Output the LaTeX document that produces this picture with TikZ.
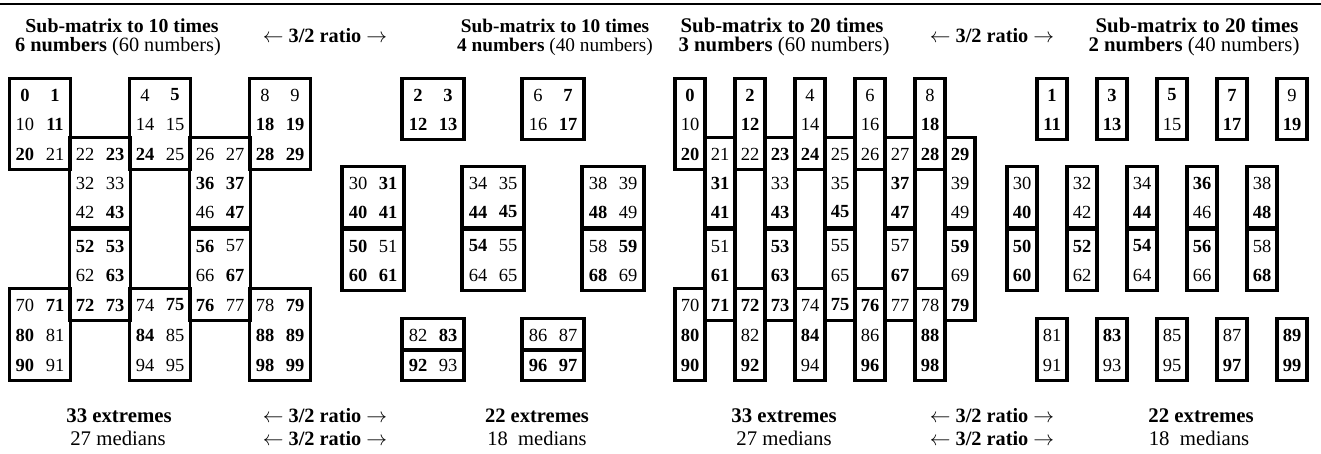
\documentclass[tikz,border=0pt]{standalone}
\usepackage{fontspec}
\setmainfont{Liberation Serif}
\newcommand\rowy{{95,124,154,183,212,246,275,305,335,365}}
\newcommand\boldflags{{1,1,1,1,0,1,0,1,0,0,0,1,1,1,0,0,0,1,1,1,1,0,0,1,1,0,0,0,1,1,0,1,0,0,0,0,1,1,0,0,1,1,0,1,1,1,0,1,1,0,1,0,1,1,1,0,1,0,0,1,1,1,0,1,0,0,0,1,1,0,0,1,1,1,0,1,1,0,0,1,1,0,0,1,1,0,0,0,1,1,1,0,1,0,0,0,1,1,1,1}}
\newcommand\numrm{\fontsize{18.5}{20}\selectfont}
\newcommand\numbf{\fontsize{18.5}{20}\selectfont\bfseries}
\newcommand\fs[1]{\fontsize{#1}{22}\selectfont}
\newcommand\putnum[4]{%
  \pgfmathtruncatemacro\mynum{10*(#3)+(#4)}%
  \pgfmathsetmacro\myy{\rowy[#3]}%
  \pgfmathtruncatemacro\myb{\boldflags[\mynum]}%
  \ifnum\myb=1\relax
    \node[numtxt,font=\numbf] (#1-\mynum) at (#2,\myy) {\mynum};%
  \else
    \node[numtxt,font=\numrm] (#1-\mynum) at (#2,\myy) {\mynum};%
  \fi}
\newcommand\cellbox[4]{%
  \pgfmathsetmacro\mytop{\rowy[#3]-16.5}%
  \pgfmathsetmacro\mybot{\rowy[#4]+15.5}%
  \draw[boxline] (#1,\mytop) rectangle (#2,\mybot);}
\begin{document}
\begin{tikzpicture}[x=1pt,y=-1pt,
  numtxt/.style={inner sep=0pt,anchor=center},
  boxline/.style={line width=3.2pt},
  ttl/.style={inner sep=0pt,anchor=base,font=\bfseries},
  lab/.style={inner sep=0pt,anchor=base}]
\useasboundingbox (0,0) rectangle (1321,454);
\coordinate (ruleL) at (0,4);
\coordinate (ruleR) at (1321,4);
\draw[line width=2.6pt] (ruleL) -- (ruleR);

% ---------- panel 1 ----------
\foreach \p in {0,2,4} {
  \pgfmathsetmacro\cx{40+60*\p}
  \cellbox{\cx-30.5}{\cx+30.5}{0}{2}
  \cellbox{\cx-30.5}{\cx+30.5}{7}{9}
  \foreach \r in {0,1,2,7,8,9} {
    \putnum{a}{\cx-15}{\r}{2*\p}
    \putnum{a}{\cx+15}{\r}{2*\p+1}
  }
}
\foreach \p in {1,3} {
  \pgfmathsetmacro\cx{40+60*\p}
  \cellbox{\cx-30.5}{\cx+30.5}{2}{4}
  \cellbox{\cx-30.5}{\cx+30.5}{5}{7}
  \foreach \r in {2,3,4,5,6,7} {
    \putnum{a}{\cx-15}{\r}{2*\p}
    \putnum{a}{\cx+15}{\r}{2*\p+1}
  }
}

% ---------- panel 2 ----------
\foreach \p in {1,3} {
  \pgfmathsetmacro\cx{373+60*\p}
  \cellbox{\cx-31}{\cx+31}{0}{1}
  \cellbox{\cx-31}{\cx+31}{8}{9}
  \draw[boxline] (\cx-31,350) -- (\cx+31,350);
  \foreach \r in {0,1,8,9} {
    \putnum{b}{\cx-15}{\r}{2*\p}
    \putnum{b}{\cx+15}{\r}{2*\p+1}
  }
}
\foreach \p in {0,2,4} {
  \pgfmathsetmacro\cx{373+60*\p}
  \cellbox{\cx-31}{\cx+31}{3}{4}
  \cellbox{\cx-31}{\cx+31}{5}{6}
  \foreach \r in {3,4,5,6} {
    \putnum{b}{\cx-15}{\r}{2*\p}
    \putnum{b}{\cx+15}{\r}{2*\p+1}
  }
}

% ---------- panel 3 ----------
\foreach \c in {0,2,4,6,8} {
  \pgfmathsetmacro\cx{690+30*\c}
  \cellbox{\cx-15}{\cx+15}{0}{2}
  \cellbox{\cx-15}{\cx+15}{7}{9}
  \foreach \r in {0,1,2,7,8,9} {\putnum{c}{\cx}{\r}{\c}}
}
\foreach \c in {1,3,5,7,9} {
  \pgfmathsetmacro\cx{690+30*\c}
  \cellbox{\cx-15}{\cx+15}{2}{4}
  \cellbox{\cx-15}{\cx+15}{5}{7}
  \foreach \r in {2,3,4,5,6,7} {\putnum{c}{\cx}{\r}{\c}}
}

% ---------- panel 4 ----------
\foreach \c in {1,3,5,7,9} {
  \pgfmathsetmacro\cx{1022+30*\c}
  \cellbox{\cx-15}{\cx+15}{0}{1}
  \cellbox{\cx-15}{\cx+15}{8}{9}
  \foreach \r in {0,1,8,9} {\putnum{d}{\cx}{\r}{\c}}
}
\foreach \c in {0,2,4,6,8} {
  \pgfmathsetmacro\cx{1022+30*\c}
  \cellbox{\cx-15}{\cx+15}{3}{4}
  \cellbox{\cx-15}{\cx+15}{5}{6}
  \foreach \r in {3,4,5,6} {\putnum{d}{\cx}{\r}{\c}}
}

% ---------- titles ----------
\node[ttl] (t1a) at (122,33) {\fs{19.8}Sub-matrix to 10 times};
\node[ttl] (t1b) at (118,52) {\fs{20.3}6 numbers \mdseries(60 numbers)};
\node[ttl] (t2a) at (555,33) {\fs{19.3}Sub-matrix to 10 times};
\node[ttl] (t2b) at (555,52) {\fs{19.3}4 numbers \mdseries(40 numbers)};
\node[ttl] (t3a) at (782,33) {\fs{20.8}Sub-matrix to 20 times};
\node[ttl] (t3b) at (784,52) {\fs{20.8}3 numbers \mdseries(60 numbers)};
\node[ttl] (t4a) at (1197,33) {\fs{20.8}Sub-matrix to 20 times};
\node[ttl] (t4b) at (1194,52) {\fs{20.8}2 numbers \mdseries(40 numbers)};
\node[ttl] (rt1) at (325,43) {\fs{20.3}$\leftarrow$ 3/2 ratio $\rightarrow$};
\node[ttl] (rt2) at (992,43) {\fs{20.3}$\leftarrow$ 3/2 ratio $\rightarrow$};

% ---------- bottom labels ----------
\node[ttl] (e1) at (119,422) {\fs{20.8}33 extremes};
\node[lab] (m1) at (118,445) {\fs{20.8}27 medians};
\node[ttl] (e2) at (537,422) {\fs{20.5}22 extremes};
\node[lab] (m2) at (537,445) {\fs{20.5}18\ \ medians};
\node[ttl] (e3) at (784,422) {\fs{20.8}33 extremes};
\node[lab] (m3) at (784,445) {\fs{20.8}27 medians};
\node[ttl] (e4) at (1201,422) {\fs{20.8}22 extremes};
\node[lab] (m4) at (1199,445) {\fs{20.8}18\ \ medians};
\node[ttl] (rb1) at (325,422) {\fs{20.3}$\leftarrow$ 3/2 ratio $\rightarrow$};
\node[ttl] (rb2) at (325,445) {\fs{20.3}$\leftarrow$ 3/2 ratio $\rightarrow$};
\node[ttl] (rb3) at (992,422) {\fs{20.3}$\leftarrow$ 3/2 ratio $\rightarrow$};
\node[ttl] (rb4) at (992,445) {\fs{20.3}$\leftarrow$ 3/2 ratio $\rightarrow$};
\end{tikzpicture}
\end{document}
